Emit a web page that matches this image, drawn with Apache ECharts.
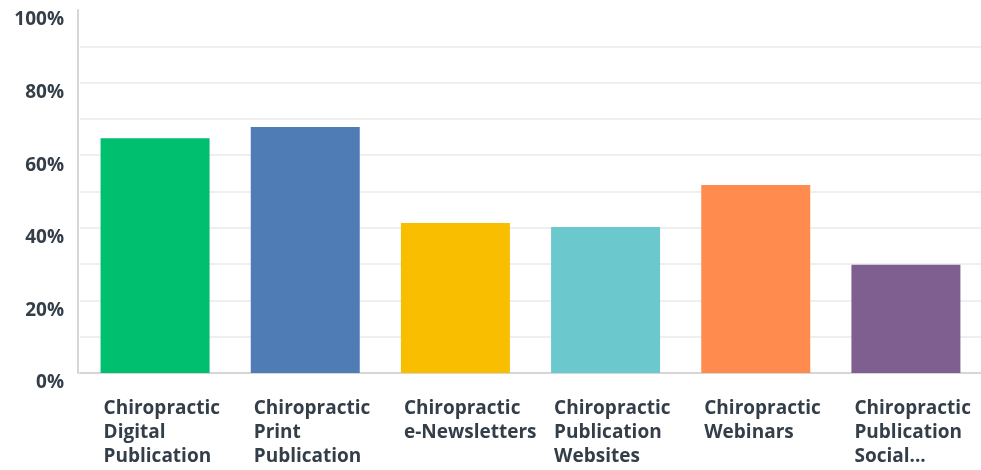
<!DOCTYPE html>
<html>
<head>
<meta charset="utf-8">
<script src="https://cdn.jsdelivr.net/npm/echarts@6/dist/echarts.min.js"></script>
<style>
  html, body { margin: 0; padding: 0; background: #ffffff; }
  #chart { width: 981px; height: 470px; }
</style>
</head>
<body>
<div id="chart"></div>
<script>
// Answer choices (each split into display lines)
const categories = [
  ['Chiropractic', 'Digital', 'Publication'],
  ['Chiropractic', 'Print', 'Publication'],
  ['Chiropractic', 'e-Newsletters'],
  ['Chiropractic', 'Publication', 'Websites'],
  ['Chiropractic', 'Webinars'],
  ['Chiropractic', 'Publication', 'Social...']
];
// Share of respondents (%)
const values = [64.7, 67.8, 41.3, 40.2, 51.8, 29.8];
const barColors = ['#00bf6f', '#507cb6', '#f9be00', '#6bc8cd', '#ff8b4f', '#7f5f90'];
// Labelled y ticks
const yTickLabels = [0, 20, 40, 60, 80, 100];

const textColor = '#333e48';
const fontFamily = '"Open Sans", "Noto Sans", sans-serif';

const chart = echarts.init(document.getElementById('chart'), null, { renderer: 'canvas' });
chart.setOption({
  animation: false,
  backgroundColor: '#ffffff',
  grid: { left: 80, right: -3, top: 10, bottom: 97, containLabel: false },
  xAxis: {
    type: 'category',
    data: categories.map(c => c.join('\n')),
    axisLine: { show: true, lineStyle: { color: '#d6d6d6', width: 2 } },
    axisTick: { show: false },
    axisLabel: {
      interval: 0,
      margin: 24,
      align: 'center',
      formatter: v => v.split('\n').map(s => '{a|' + s + '}').join('\n'),
      rich: {
        a: {
          width: 103,
          align: 'left',
          color: textColor,
          fontFamily: fontFamily,
          fontWeight: 'bold',
          fontSize: 19,
          lineHeight: 24
        }
      }
    }
  },
  yAxis: {
    type: 'value',
    min: 0,
    max: 100,
    interval: 10,
    offset: 2,
    axisLine: { show: true, lineStyle: { color: '#d6d6d6', width: 2 } },
    axisTick: { show: false },
    splitLine: { show: true, showMaxLine: false, lineStyle: { color: '#efefef', width: 2 } },
    axisLabel: {
      margin: 14,
      verticalAlign: 'top',
      color: textColor,
      fontFamily: fontFamily,
      fontWeight: 'bold',
      fontSize: 19,
      lineHeight: 20,
      formatter: v => (yTickLabels.indexOf(v) >= 0 ? v + '%' : '')
    }
  },
  series: [{
    type: 'bar',
    data: values.map((v, i) => ({ value: v, itemStyle: { color: barColors[i] } })),
    barWidth: 109
  }]
});
</script>
</body>
</html>
